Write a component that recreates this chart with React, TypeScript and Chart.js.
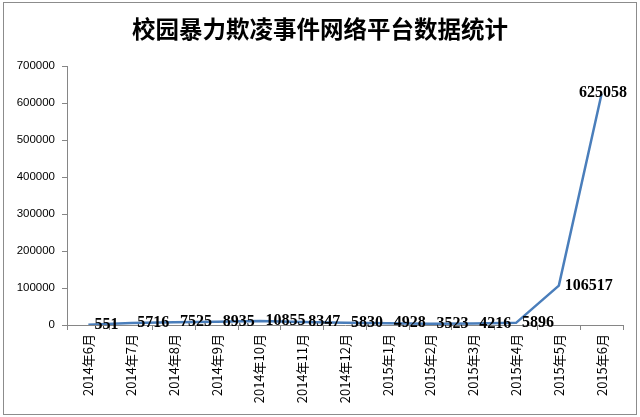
import React, { useEffect, useRef } from "react";
import { Chart, registerables } from "chart.js";

Chart.register(...registerables);

const TITLE = "校园暴力欺凌事件网络平台数据统计";
const categories = [
  "2014年6月", "2014年7月", "2014年8月", "2014年9月", "2014年10月", "2014年11月", "2014年12月",
  "2015年1月", "2015年2月", "2015年3月", "2015年4月", "2015年5月", "2015年6月",
];
const values = [551, 5716, 7525, 8935, 10855, 8347, 5830, 4928, 3523, 4216, 5896, 106517, 625058];
const yMax = 700000;
const yStep = 100000;

const framePlugin = {
  id: "frame",
  beforeDraw(chart: any) {
    const { ctx, width, height } = chart;
    ctx.save();
    ctx.fillStyle = "#ffffff";
    ctx.fillRect(0, 0, width, height);
    ctx.strokeStyle = "#8c8c8c";
    ctx.lineWidth = 1;
    ctx.strokeRect(3.5, 2.5, width - 7, height - 5);
    ctx.fillStyle = "#000000";
    ctx.font = "bold 23.5px 'Noto Sans CJK SC', sans-serif";
    ctx.textAlign = "center";
    ctx.textBaseline = "middle";
    ctx.fillText(TITLE, width / 2, 29);
    ctx.restore();
  },
};

const labelPlugin = {
  id: "valueLabels",
  afterDatasetsDraw(chart: any) {
    const { ctx, chartArea } = chart;
    const meta = chart.getDatasetMeta(0);
    ctx.save();
    ctx.font = "bold 16px 'Liberation Serif', serif";
    ctx.fillStyle = "#000000";
    ctx.textAlign = "left";
    ctx.textBaseline = "middle";
    meta.data.forEach((pt: any, i: number) => {
      const text = String(values[i]);
      const w = ctx.measureText(text).width;
      let x = pt.x + 6;
      let y = pt.y;
      if (x + w > chartArea.right + 4) {
        x = chartArea.right + 4 - w;
        y = pt.y - 1;
      }
      ctx.fillText(text, x, y);
    });
    ctx.restore();
  },
};

export default function App() {
  const ref = useRef<HTMLCanvasElement | null>(null);
  useEffect(() => {
    if (!ref.current) return;
    const chart = new Chart(ref.current, {
      type: "line",
      data: {
        labels: categories,
        datasets: [
          {
            data: values,
            borderColor: "#4A7EBB",
            borderWidth: 2.5,
            pointRadius: 0,
            tension: 0,
            fill: false,
          },
        ],
      },
      options: {
        responsive: false,
        animation: false,
        layout: { padding: { top: 66, right: 17, left: 0, bottom: 0 } },
        plugins: { legend: { display: false }, title: { display: false }, tooltip: { enabled: false } },
        scales: {
          x: {
            type: "category",
            offset: true,
            afterFit(scale: any) {
              scale.height = 92;
            },
            grid: {
              offset: true,
              drawOnChartArea: false,
              drawTicks: true,
              tickLength: 5,
              color: "#868686",
            },
            border: { color: "#868686", width: 1 },
            ticks: {
              autoSkip: false,
              minRotation: 90,
              maxRotation: 90,
              padding: 4,
              color: "#000000",
              font: { family: "'Noto Sans CJK SC', sans-serif", size: 13 },
            },
          },
          y: {
            min: 0,
            max: yMax,
            afterFit(scale: any) {
              scale.width = 67;
            },
            grid: {
              drawOnChartArea: false,
              drawTicks: true,
              tickLength: 5,
              color: "#868686",
            },
            border: { color: "#868686", width: 1 },
            ticks: {
              stepSize: yStep,
              padding: 7,
              color: "#000000",
              font: { family: "'Liberation Sans', sans-serif", size: 11.5 },
              callback: (v: any) => String(v),
            },
          },
        },
      },
      plugins: [framePlugin, labelPlugin],
    });
    return () => chart.destroy();
  }, []);
  return (
    <div style={{ position: "absolute", left: 0, top: 0, width: 640, height: 417 }}>
      <canvas ref={ref} width={640} height={417} style={{ width: 640, height: 417 }} />
    </div>
  );
}
